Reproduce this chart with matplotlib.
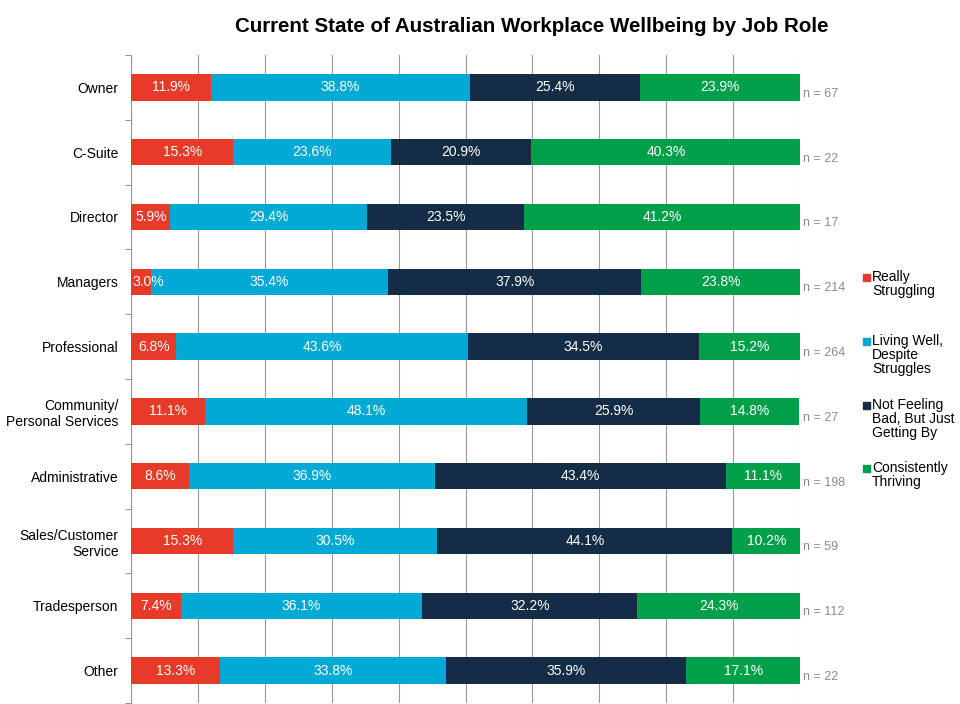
import matplotlib
matplotlib.use("Agg")
import matplotlib.pyplot as plt
import numpy as np

roles = ["Owner", "C-Suite", "Director", "Managers", "Professional",
         "Community/\nPersonal Services", "Administrative",
         "Sales/Customer\nService", "Tradesperson", "Other"]
really_struggling = [11.9, 15.3, 5.9, 3.0, 6.8, 11.1, 8.6, 15.3, 7.4, 13.3]
living_well = [38.8, 23.6, 29.4, 35.4, 43.6, 48.1, 36.9, 30.5, 36.1, 33.8]
getting_by = [25.4, 20.9, 23.5, 37.9, 34.5, 25.9, 43.4, 44.1, 32.2, 35.9]
thriving = [23.9, 40.3, 41.2, 23.8, 15.2, 14.8, 11.1, 10.2, 24.3, 17.1]
n_counts = [67, 22, 17, 214, 264, 27, 198, 59, 112, 22]

series = [really_struggling, living_well, getting_by, thriving]
series_names = ["Really\nStruggling", "Living Well,\nDespite\nStruggles",
                "Not Feeling\nBad, But Just\nGetting By", "Consistently\nThriving"]
colors = ["#E83A28", "#00AAD5", "#152C46", "#00A04B"]

plt.rcParams['font.family'] = ['Liberation Sans', 'DejaVu Sans']

fig = plt.figure(figsize=(9.6, 7.04), dpi=100)
ax = fig.add_axes([131 / 960, 1 - 703 / 704, (800 - 131) / 960, (703 - 55) / 704])

y = np.arange(len(roles))
left = np.zeros(len(roles))
for vals, col in zip(series, colors):
    vals = np.array(vals)
    ax.barh(y, vals, left=left, height=0.41, color=col, zorder=3)
    for yi, l, v in zip(y, left, vals):
        # tiny segments: keep the label inside the plot like the original
        xc = max(l + v / 2, 2.5)
        ax.text(xc, yi, f"{v:.1f}%", ha="center", va="center",
                color="white", fontsize=10, zorder=5)
    left = left + vals

for yi, n in zip(y, n_counts):
    ax.text(100.5, yi + 0.1, f"n = {n}", ha="left", va="center",
            color="#8a8a8a", fontsize=9, clip_on=False)

ax.set_xlim(0, 100)
ax.set_ylim(len(roles) - 0.5, -0.5)
ax.set_xticks(np.arange(0, 101, 10))
ax.xaxis.grid(True, color="#9a9a9a", linewidth=0.8, zorder=0)
ax.tick_params(axis="x", length=0, labelbottom=False)
ax.set_yticks(y)
ax.set_yticklabels(roles, fontsize=10)
ax.set_yticks(np.arange(-0.5, len(roles), 1), minor=True)
ax.tick_params(axis="y", which="major", length=0, pad=9)
ax.tick_params(axis="y", which="minor", length=4, color="#9a9a9a", width=0.8)
for s in ["top", "right", "bottom"]:
    ax.spines[s].set_visible(False)
ax.spines["left"].set_color("#9a9a9a")
ax.spines["left"].set_linewidth(0.8)

# legend on the right
legend_y = [277, 341, 405, 468]
for ly, name, col in zip(legend_y, series_names, colors):
    fig.patches.append(plt.Rectangle((863 / 960, 1 - (ly + 4) / 704), 7 / 960, 7 / 704,
                                     transform=fig.transFigure, color=col))
    fig.text(872 / 960, 1 - (ly - 7) / 704, name, ha="left", va="top",
             fontsize=10, linespacing=1.0)

fig.text(532 / 960, 1 - 26 / 704, "Current State of Australian Workplace Wellbeing by Job Role",
         ha="center", va="center", fontsize=14.8, fontweight="bold")

fig.savefig("out.png", dpi=100)
